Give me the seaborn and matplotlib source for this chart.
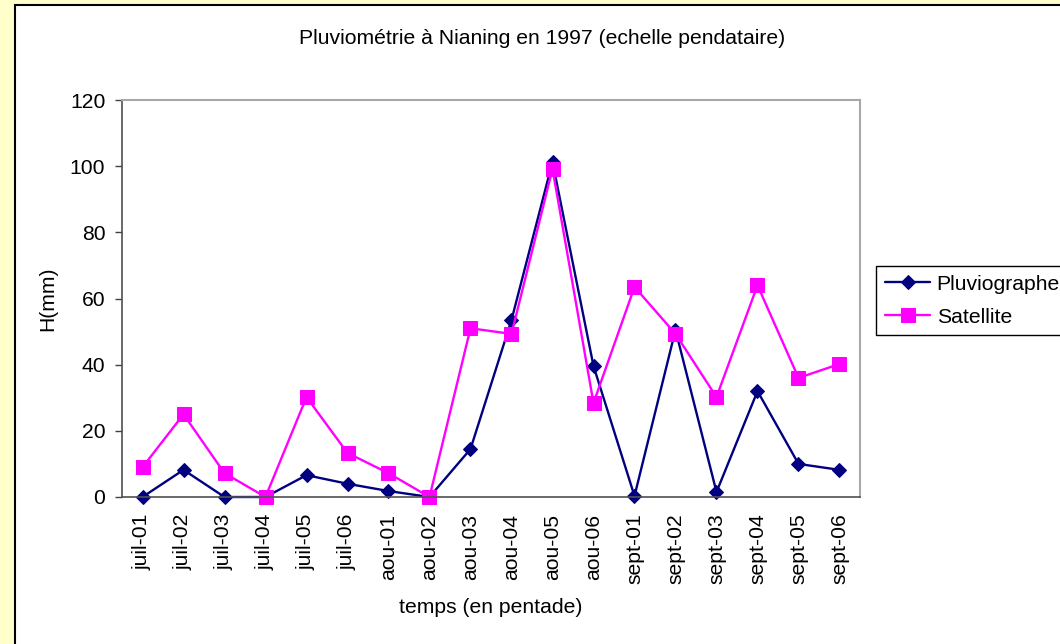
import matplotlib
matplotlib.use("Agg")
import matplotlib.pyplot as plt
from matplotlib.patches import Rectangle
import numpy as np
import pandas as pd
import seaborn as sns

# Pentades (5-day periods), July to September 1997
pentades = ["juil-01", "juil-02", "juil-03", "juil-04", "juil-05", "juil-06",
            "aou-01", "aou-02", "aou-03", "aou-04", "aou-05", "aou-06",
            "sept-01", "sept-02", "sept-03", "sept-04", "sept-05", "sept-06"]

# Rainfall (mm) per pentade
pluviographe = [0.0, 8.2, 0.0, 0.0, 6.6, 4.0, 1.8, 0.0, 14.5, 53.5, 101.3, 39.6,
                0.3, 50.5, 1.5, 32.0, 10.0, 8.2]
satellite = [9.0, 25.0, 7.2, 0.0, 30.2, 13.3, 7.2, 0.0, 51.0, 49.3, 99.2, 28.4,
             63.5, 49.3, 30.2, 64.0, 36.0, 40.2]

series_names = ["Pluviographe", "Satellite"]
y_ticks = [0, 20, 40, 60, 80, 100, 120]

df = pd.concat([
    pd.DataFrame({"pentade": pentades, "H": pluviographe, "serie": series_names[0]}),
    pd.DataFrame({"pentade": pentades, "H": satellite, "serie": series_names[1]}),
])

sns.set_style("white")
plt.rcParams["font.family"] = ["Liberation Sans", "DejaVu Sans"]
plt.rcParams["text.color"] = "black"
plt.rcParams["axes.labelcolor"] = "black"
plt.rcParams["xtick.color"] = "black"
plt.rcParams["ytick.color"] = "black"
FS = 15.2

W, H = 1060, 644
fig = plt.figure(figsize=(W / 100, H / 100), dpi=100)
fig.patch.set_facecolor("#FFFFCC")

# White chart area with a dark frame, behind everything else
fig.patches.append(Rectangle((14.5 / W, -0.05), 1.1, 1 - 4.5 / H + 0.05,
                             transform=fig.transFigure, facecolor="white",
                             edgecolor="black", linewidth=1.5, zorder=-5))

ax = fig.add_axes([122 / W, 1 - 497 / H, (860 - 122) / W, (497 - 100) / H])
ax.set_facecolor("white")

styles = {
    "Pluviographe": dict(color="#000080", marker="D", markersize=6.8),
    "Satellite": dict(color="#FF00FF", marker="s", markersize=9.4),
}

for name in series_names:
    sub = df[df["serie"] == name]
    st = styles[name]
    sns.lineplot(data=sub, x="pentade", y="H", ax=ax, color=st["color"],
                 marker=st["marker"], markersize=st["markersize"],
                 markeredgecolor=st["color"], markerfacecolor=st["color"],
                 linewidth=1.7, label=name, sort=False, legend=False,
                 clip_on=False)

n = len(pentades)
ax.set_xlim(-0.5, n - 0.5)
ax.set_ylim(0, 120)
ax.set_yticks(y_ticks)
ax.set_xticks(np.arange(n))
ax.set_xticklabels(pentades, rotation=90, fontsize=FS)
ax.set_xticks(np.arange(n + 1) - 0.5, minor=True)
ax.tick_params(axis="x", which="major", length=0, pad=12, labelcolor="black")
ax.tick_params(axis="x", which="minor", length=5, width=1, color="#404040", direction="out")
ax.tick_params(axis="y", which="major", length=5, width=1, color="#404040",
               direction="out", labelsize=FS, pad=7, left=True, labelcolor="black")
ax.grid(False)

for side in ["left", "bottom"]:
    ax.spines[side].set_color("#505050")
    ax.spines[side].set_linewidth(1.2)
for side in ["top", "right"]:
    ax.spines[side].set_visible(True)
    ax.spines[side].set_color("#A8A8A8")
    ax.spines[side].set_linewidth(1.5)

ax.set_xlabel("temps (en pentade)", fontsize=FS, labelpad=10)
ax.set_ylabel("H(mm)", fontsize=FS, labelpad=9)

fig.text(542 / W, 1 - 38 / H, "Pluviométrie à Nianing en 1997 (echelle pendataire)",
         ha="center", va="center", fontsize=FS)

handles, labels = ax.get_legend_handles_labels()
leg = fig.legend(handles, labels, loc="upper left",
                 bbox_to_anchor=(876 / W, 1 - 266 / H), fontsize=FS,
                 frameon=True, fancybox=False, edgecolor="black", framealpha=1,
                 borderaxespad=0, borderpad=0.42, handlelength=2.15,
                 handletextpad=0.3, labelspacing=0.65)
leg.get_frame().set_linewidth(1.0)

fig.savefig("out.png", dpi=100, facecolor=fig.get_facecolor())
